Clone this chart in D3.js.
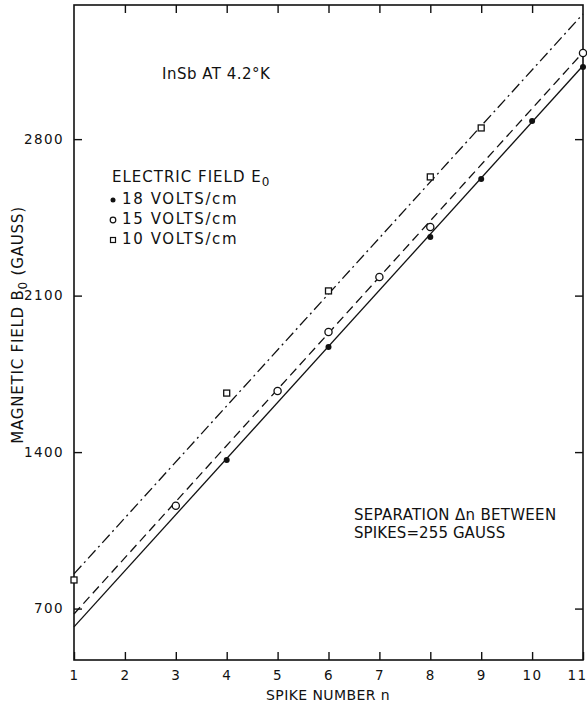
<!DOCTYPE html>
<html>
<head>
<meta charset="utf-8">
<script src="https://cdn.jsdelivr.net/npm/d3@7"></script>
<style>
  body { margin: 0; background: #fff; }
  svg { display: block; font-family: "DejaVu Sans", sans-serif; }
</style>
</head>
<body>
<script>
// values
const spikeTicks = [1, 2, 3, 4, 5, 6, 7, 8, 9, 10, 11];
const fieldTicks = [700, 1400, 2100, 2800];

// 18 V/cm (filled dots)
const n18 = [4, 6, 8, 9, 10, 11];
const b18 = [1365, 1870, 2362, 2622, 2881, 3123];
// 15 V/cm (open circles)
const n15 = [3, 5, 6, 7, 8, 11];
const b15 = [1160, 1673, 1937, 2183, 2407, 3185];
// 10 V/cm (open squares)
const n10 = [1, 4, 6, 8, 9];
const b10 = [828, 1664, 2121, 2631, 2850];

// straight line fits, end points at n = 1 and n = 11
const fitN = [1, 11];
const fit18 = [618, 3128];
const fit15 = [676, 3188];
const fit10 = [855, 3360];

const legendLabels = ["18 VOLTS/cm", "15 VOLTS/cm", "10 VOLTS/cm"];

(function() {

  let svgContainer = "";

  window.onload = function() {
    svgContainer = d3.select("body")
      .append("svg")
      .attr("width", 587)
      .attr("height", 703);

    let scales = drawAxes();
    plotLines(scales);
    plotPoints(scales);
    makeLegend();
    makeLabels();
  }

  function drawAxes() {
    let xScale = d3.scaleLinear()
      .domain([1, 11])
      .range([74, 583]);

    let yScale = d3.scaleLinear()
      .domain([470, 3400])
      .range([660, 5]);

    let left = xScale.range()[0], right = xScale.range()[1];
    let top = yScale.range()[1], bottom = yScale.range()[0];

    // bottom axis, ticks point into the plot
    svgContainer.append("g")
      .attr("class", "xaxis")
      .attr("transform", "translate(0," + bottom + ")")
      .call(d3.axisBottom(xScale).tickValues(spikeTicks)
        .tickFormat(d3.format("d"))
        .tickSize(-8).tickSizeOuter(0).tickPadding(10));

    svgContainer.append("g")
      .attr("transform", "translate(0," + top + ")")
      .call(d3.axisTop(xScale).tickValues(spikeTicks.slice(1, -1))
        .tickSize(-8).tickSizeOuter(0).tickFormat(""));

    svgContainer.append("g")
      .attr("transform", "translate(" + left + ",0)")
      .call(d3.axisLeft(yScale).tickValues(fieldTicks)
        .tickFormat(d3.format("d"))
        .tickSize(-8).tickSizeOuter(0).tickPadding(10));

    svgContainer.append("g")
      .attr("transform", "translate(" + right + ",0)")
      .call(d3.axisRight(yScale).tickValues(fieldTicks)
        .tickSize(-8).tickSizeOuter(0).tickFormat(""));

    svgContainer.selectAll(".domain").remove();
    svgContainer.selectAll(".tick line")
      .attr("stroke", "#111")
      .attr("stroke-width", 1.4);
    svgContainer.selectAll(".tick text")
      .attr("fill", "#111")
      .style("font-family", "DejaVu Sans")
      .style("font-size", "13.5px")
      .style("letter-spacing", "1.4px");

    // last label sits at the page edge, keep it inside
    svgContainer.selectAll(".xaxis .tick text")
      .filter((d) => d === 11)
      .attr("text-anchor", "end")
      .attr("dx", 4);

    // frame
    svgContainer.append("rect")
      .attr("x", left)
      .attr("y", top)
      .attr("width", right - left)
      .attr("height", bottom - top)
      .attr("fill", "none")
      .attr("stroke", "#111")
      .attr("stroke-width", 1.6);

    return { x: xScale, y: yScale };
  }

  function plotLines(scales) {
    let line = d3.line()
      .x((d) => scales.x(d[0]))
      .y((d) => scales.y(d[1]));

    let fits = [
      { vals: fit18, dash: null },
      { vals: fit15, dash: "9,5" },
      { vals: fit10, dash: "11,4,2,4" }
    ];

    fits.forEach((f) => {
      svgContainer.append("path")
        .datum(fitN.map((n, i) => [n, f.vals[i]]))
        .attr("d", line)
        .attr("fill", "none")
        .attr("stroke", "#111")
        .attr("stroke-width", 1.3)
        .attr("stroke-dasharray", f.dash);
    });
  }

  function plotPoints(scales) {
    let xs = scales.x, ys = scales.y;

    svgContainer.selectAll(".p18")
      .data(n18.map((n, i) => [n, b18[i]]))
      .enter()
      .append("circle")
        .attr("cx", (d) => xs(d[0]))
        .attr("cy", (d) => ys(d[1]))
        .attr("r", 3)
        .attr("fill", "#111");

    svgContainer.selectAll(".p15")
      .data(n15.map((n, i) => [n, b15[i]]))
      .enter()
      .append("circle")
        .attr("cx", (d) => xs(d[0]))
        .attr("cy", (d) => ys(d[1]))
        .attr("r", 3.6)
        .attr("fill", "#fff")
        .attr("stroke", "#111")
        .attr("stroke-width", 1.3);

    svgContainer.selectAll(".p10")
      .data(n10.map((n, i) => [n, b10[i]]))
      .enter()
      .append("rect")
        .attr("x", (d) => xs(d[0]) - 3)
        .attr("y", (d) => ys(d[1]) - 3)
        .attr("width", 6)
        .attr("height", 6)
        .attr("fill", "#fff")
        .attr("stroke", "#111")
        .attr("stroke-width", 1.3);
  }

  function makeLegend() {
    let heading = svgContainer.append("text")
      .attr("x", 112)
      .attr("y", 182)
      .style("font-size", "15px")
      .style("letter-spacing", "1px")
      .attr("fill", "#111")
      .text("ELECTRIC FIELD E");
    heading.append("tspan")
      .attr("dy", 4)
      .style("font-size", "12px")
      .text("0");

    let rowY = [199, 219, 239];

    legendLabels.forEach((lab, i) => {
      svgContainer.append("text")
        .attr("x", 122)
        .attr("y", rowY[i] + 5)
        .style("font-size", "15px")
        .style("letter-spacing", "1.6px")
        .attr("fill", "#111")
        .text(lab);
    });

    svgContainer.append("circle")
      .attr("cx", 113).attr("cy", rowY[0] + 1).attr("r", 2.5)
      .attr("fill", "#111");
    svgContainer.append("circle")
      .attr("cx", 113).attr("cy", rowY[1] + 1).attr("r", 2.8)
      .attr("fill", "none").attr("stroke", "#111").attr("stroke-width", 1.2);
    svgContainer.append("rect")
      .attr("x", 110.5).attr("y", rowY[2] - 1.5).attr("width", 5).attr("height", 5)
      .attr("fill", "none").attr("stroke", "#111").attr("stroke-width", 1.2);
  }

  function makeLabels() {
    svgContainer.append("text")
      .attr("x", 162)
      .attr("y", 79)
      .style("font-size", "15px")
      .style("letter-spacing", "0.5px")
      .attr("fill", "#111")
      .text("InSb AT 4.2°K");

    svgContainer.append("text")
      .attr("x", 354)
      .attr("y", 520)
      .style("font-size", "15px")
      .style("letter-spacing", "0.3px")
      .attr("fill", "#111")
      .text("SEPARATION \u0394n BETWEEN");

    svgContainer.append("text")
      .attr("x", 354)
      .attr("y", 538)
      .style("font-size", "15px")
      .style("letter-spacing", "0.1px")
      .attr("fill", "#111")
      .text("SPIKES=255 GAUSS");

    svgContainer.append("text")
      .attr("x", 328)
      .attr("y", 700)
      .attr("text-anchor", "middle")
      .style("font-size", "14px")
      .style("letter-spacing", "0.4px")
      .attr("fill", "#111")
      .text("SPIKE NUMBER n");

    let yTitle = svgContainer.append("text")
      .attr("transform", "translate(23, 325)rotate(-90)")
      .attr("text-anchor", "middle")
      .style("font-size", "15px")
      .style("letter-spacing", "0.8px")
      .attr("fill", "#111")
      .text("MAGNETIC FIELD B");
    yTitle.append("tspan")
      .attr("dy", 3.5)
      .style("font-size", "12px")
      .text("0");
    yTitle.append("tspan")
      .attr("dy", -3.5)
      .text(" (GAUSS)");
  }

})();
</script>
</body>
</html>
